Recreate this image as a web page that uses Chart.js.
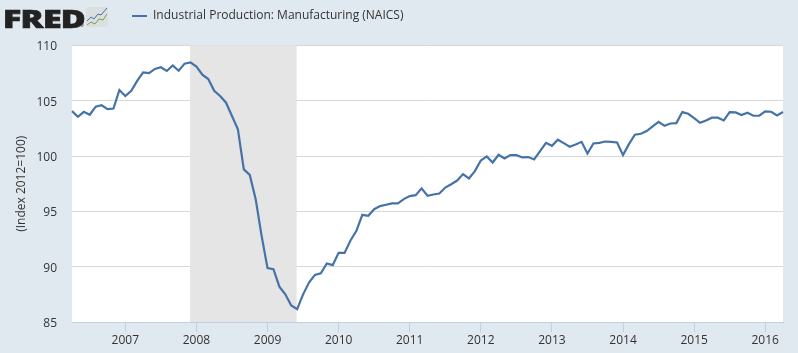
<!DOCTYPE html>
<html>
<head>
<meta charset="utf-8">
<style>
  html, body { margin: 0; padding: 0; background: #e1e9f0; overflow: hidden; }
  #wrap { position: relative; width: 798px; height: 353px; }
  #logo { position: absolute; left: 3px; top: 2.5px; font: 800 25.5px "Open Sans", sans-serif; letter-spacing: -0.5px; color: #222; line-height: 30px; transform: scaleX(1.33); transform-origin: left top; -webkit-text-stroke: 0.7px #222; }
  #reg { position: absolute; left: 80px; top: 23px; font: 400 5px "Open Sans", sans-serif; color: #222; line-height: 5px; }
  #icon { position: absolute; left: 86px; top: 7px; }
</style>
</head>
<body>
<div id="wrap">
  <canvas id="chartIP" width="798" height="353"></canvas>
  <div id="logo">FRED</div>
  <div id="reg">®</div>
  <svg id="icon" width="22" height="20" viewBox="0 0 22 20">
    <rect x="0" y="0" width="22" height="20" rx="2" fill="#dcdfe0"/>
    <polyline points="1,14 5,10 8,12 12,7 15,8 21,1" fill="none" stroke="#4572a7" stroke-width="1"/>
    <polyline points="1,18 5,15 9,17 13,12 17,13 21,7" fill="none" stroke="#7f9f4a" stroke-width="1"/>
  </svg>
</div>
<script src="https://cdn.jsdelivr.net/npm/chart.js@4"></script>
<script>
const seriesName = "Industrial Production: Manufacturing (NAICS)";
const axisTitle = "(Index 2012=100)";
const startYear = 2006;
const startMonth = 4;
const recessionStart = "2007-12";
const recessionEnd = "2009-06";

const ipValues = [
    104.07, 103.56, 104.0, 103.74, 104.47, 104.6, 104.25, 104.3, 105.98,
    105.43, 105.9, 106.8, 107.57, 107.5, 107.88, 108.03, 107.7, 108.2, 107.72, 108.36, 108.48,
    108.09, 107.36, 106.97, 105.9, 105.43, 104.83, 103.62, 102.42, 98.8, 98.3, 96.11, 92.79,
    89.87, 89.77, 88.2, 87.5, 86.5, 86.16, 87.5, 88.57, 89.26, 89.41, 90.29, 90.14,
    91.25, 91.25, 92.37, 93.24, 94.69, 94.6, 95.2, 95.48, 95.6, 95.72, 95.72, 96.11,
    96.38, 96.47, 97.08, 96.41, 96.53, 96.62, 97.16, 97.46, 97.79, 98.37, 97.98, 98.64,
    99.6, 99.97, 99.42, 100.12, 99.79, 100.09, 100.09, 99.88, 99.91, 99.7, 100.45, 101.2,
    100.93, 101.48, 101.17, 100.84, 101.05, 101.29, 100.24, 101.14, 101.2, 101.32, 101.29, 101.23,
    100.09, 101.08, 101.93, 102.02, 102.26, 102.68, 103.1, 102.74, 102.95, 102.98, 103.98, 103.83,
    103.44, 103.01, 103.22, 103.47, 103.47, 103.22, 103.98, 103.95, 103.71, 103.92, 103.65, 103.65,
    104.04, 104.01, 103.68, 103.98
];

// month labels like 2006-04, one for each value
const monthLabels = [];
for (let i = 0; i < ipValues.length; i++) {
    const m = startMonth - 1 + i;
    const mm = String(m % 12 + 1).padStart(2, "0");
    monthLabels.push(`${startYear + Math.floor(m / 12)}-${mm}`);
}

const isJanuary = (label) => label.endsWith("-01");

// white plot background and grey recession band
const recessionBand = {
    id: "recessionBand",
    beforeDraw(chart) {
        const { ctx, chartArea } = chart;
        ctx.save();
        ctx.fillStyle = "#ffffff";
        ctx.fillRect(chartArea.left, chartArea.top, chartArea.width, chartArea.height);
        ctx.restore();
    },
    beforeDatasetsDraw(chart) {
        const { ctx, chartArea, scales } = chart;
        const x0 = scales.x.getPixelForValue(monthLabels.indexOf(recessionStart));
        const x1 = scales.x.getPixelForValue(monthLabels.indexOf(recessionEnd));
        ctx.save();
        ctx.fillStyle = "#e5e5e5";
        ctx.fillRect(x0 - 0.5, chartArea.top, x1 - x0, chartArea.height);
        ctx.restore();
    }
};

// moves the legend next to the logo
const legendPlace = {
    id: "legendPlace",
    afterLayout(chart) {
        chart.legend.left = 122;
        chart.legend.top = 0;
    }
};

new Chart(document.getElementById("chartIP"), {
    type: "line",
    data: {
        labels: monthLabels,
        datasets: [{
            label: seriesName,
            data: ipValues,
            borderColor: "#4572a7",
            backgroundColor: "#4572a7",
            borderWidth: 2.2,
            pointRadius: 0,
            tension: 0,
            clip: false
        }]
    },
    plugins: [recessionBand, legendPlace],
    options: {
        responsive: false,
        animation: false,
        layout: { padding: { right: 15, top: 13.5 } },
        plugins: {
            tooltip: { enabled: false },
            legend: {
                display: true,
                position: "top",
                align: "start",
                labels: {
                    boxWidth: 15,
                    boxHeight: 2,
                    padding: 10,
                    color: "#333333",
                    font: { family: "'Open Sans'", size: 12 },
                    generateLabels(chart) {
                        return Chart.defaults.plugins.legend.labels.generateLabels(chart).map(item => ({ ...item, lineWidth: 0 }));
                    }
                }
            }
        },
        scales: {
            x: {
                type: "category",
                offset: false,
                afterFit(scale) { scale.height = 31; },
                border: { color: "#c0d0e0", width: 1 },
                grid: {
                    drawOnChartArea: false,
                    tickLength: 10,
                    color: (c) => c.tick && c.tick.label ? "#c0d0e0" : "transparent"
                },
                ticks: {
                    autoSkip: false,
                    maxRotation: 0,
                    padding: 1,
                    color: "#333333",
                    font: { family: "'Open Sans'", size: 12 },
                    callback(value) {
                        const label = this.getLabelForValue(value);
                        return isJanuary(label) ? label.slice(0, 4) : "";
                    }
                }
            },
            y: {
                min: 85,
                max: 110,
                afterFit(scale) { scale.width = 72; },
                border: { display: false },
                grid: { color: "#d8d8d8", tickLength: 0 },
                ticks: {
                    stepSize: 5,
                    padding: 15,
                    labelOffset: 1.5,
                    color: "#333333",
                    font: { family: "'Open Sans'", size: 12 }
                },
                title: {
                    display: true,
                    text: axisTitle,
                    color: "#333333",
                    padding: { top: 14, bottom: 0 },
                    font: { family: "'Open Sans'", size: 12 }
                }
            }
        }
    }
});
</script>
</body>
</html>
